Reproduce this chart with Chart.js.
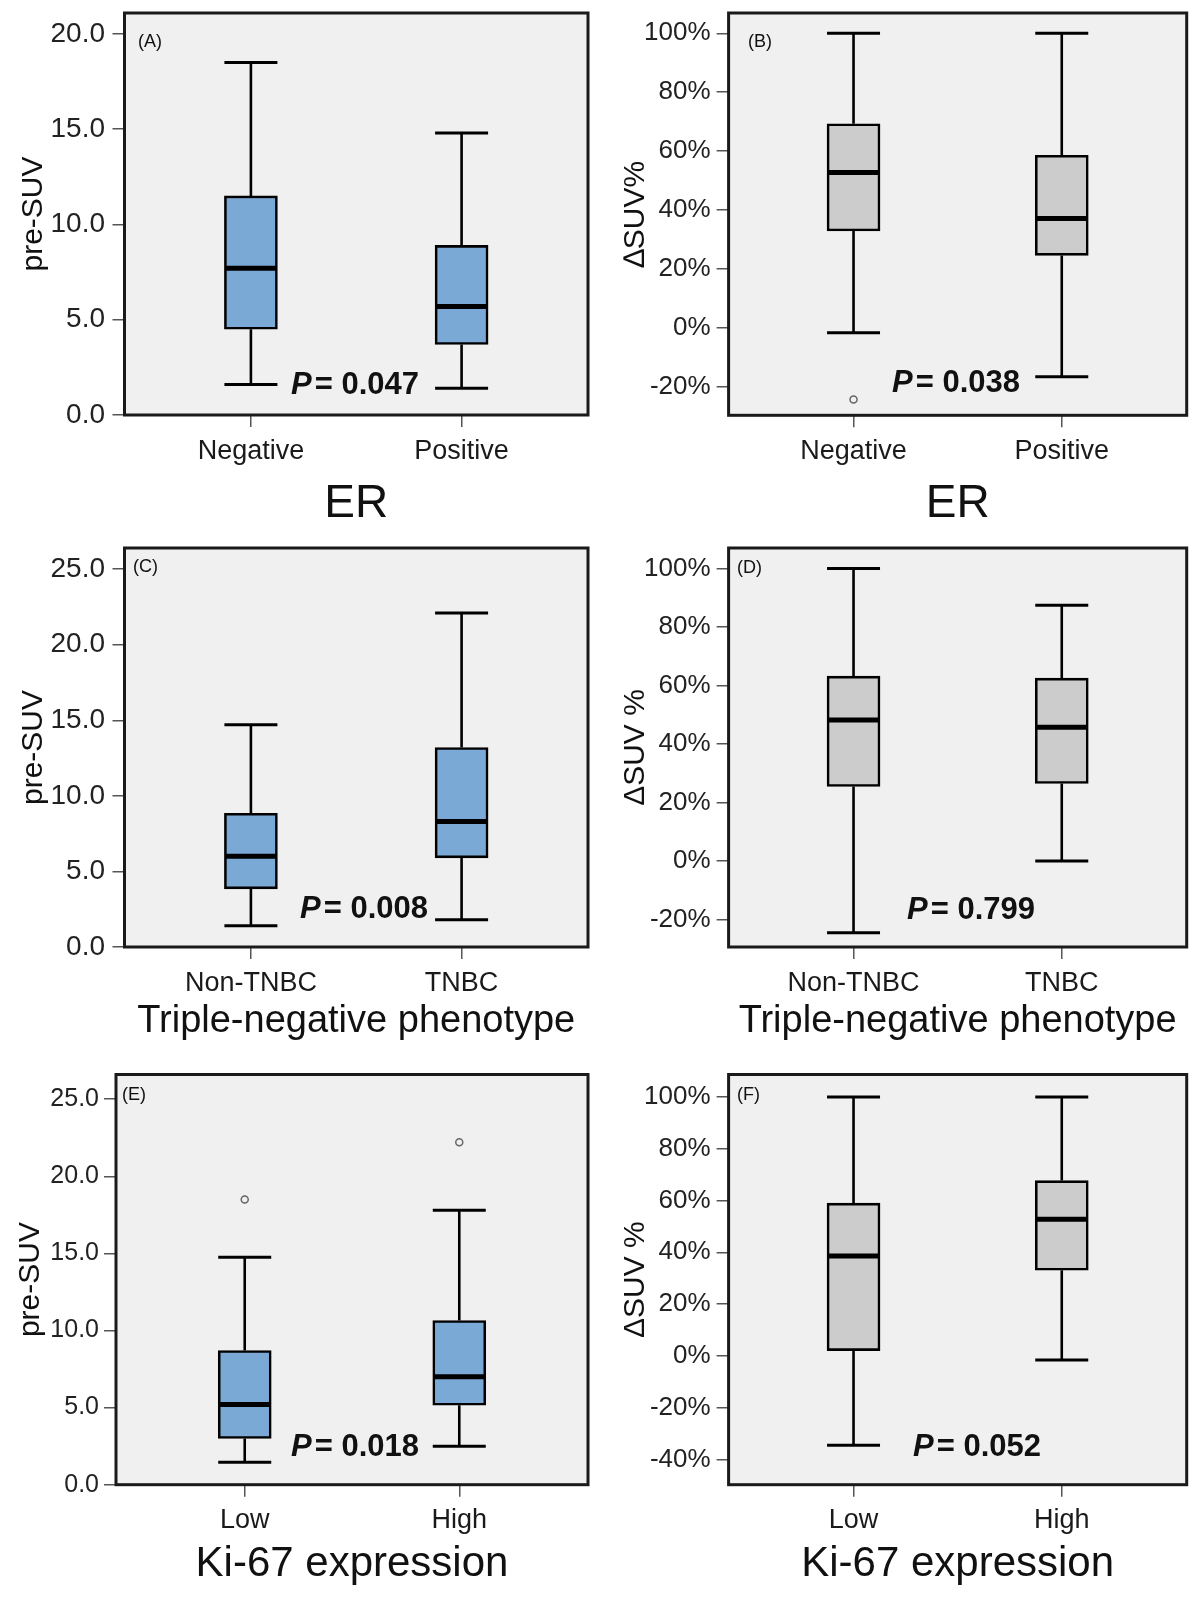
<!DOCTYPE html>
<html>
<head>
<meta charset="utf-8">
<script src="https://cdn.jsdelivr.net/npm/chart.js@4.4.1/dist/chart.umd.min.js"></script>
<style>
  html, body { margin: 0; padding: 0; background: #fff; }
  #wrap { position: relative; width: 1200px; height: 1600px; }
  canvas { position: absolute; }
</style>
</head>
<body>
<div id="wrap">
  <canvas id="pA" width="600" height="530" style="left:0;top:0"></canvas>
  <canvas id="pB" width="600" height="530" style="left:600px;top:0"></canvas>
  <canvas id="pC" width="600" height="530" style="left:0;top:530px"></canvas>
  <canvas id="pD" width="600" height="530" style="left:600px;top:530px"></canvas>
  <canvas id="pE" width="600" height="540" style="left:0;top:1060px"></canvas>
  <canvas id="pF" width="600" height="540" style="left:600px;top:1060px"></canvas>
</div>
<script>
// group names
const erGroups = ['Negative', 'Positive'];
const tnGroups = ['Non-TNBC', 'TNBC'];
const kiGroups = ['Low', 'High'];

// five-number summaries per group: [lower whisker, Q1, median, Q3, upper whisker]
const erPreSuv = [[1.6, 4.5, 7.7, 11.5, 18.5], [1.4, 3.7, 5.7, 8.9, 14.8]];
const erDeltaSuv = [[-1.7, 32.9, 52.7, 69.3, 100], [-16.6, 24.6, 37.1, 58.6, 100]];
const tnPreSuv = [[1.4, 3.85, 6.0, 8.85, 14.7], [1.8, 5.9, 8.3, 13.2, 22.1]];
const tnDeltaSuv = [[-24.5, 25.5, 48.2, 63.2, 100], [0, 26.5, 45.7, 62.5, 87.4]];
const kiPreSuv = [[1.45, 3.0, 5.2, 8.7, 14.75], [2.5, 5.15, 7.0, 10.65, 17.8]];
const kiDeltaSuv = [[-34.6, 2.0, 38.6, 59.0, 100], [-1.6, 33.1, 52.8, 67.7, 100]];

// outliers: [group index, value]
const erDeltaOutliers = [[0, -24.3]];
const kiPreOutliers = [[0, 18.5], [1, 22.2]];

// y tick values
const preTicks20 = [0, 5, 10, 15, 20];
const preTicks25 = [0, 5, 10, 15, 20, 25];
const deltaTicks = [-20, 0, 20, 40, 60, 80, 100];
const deltaTicksWide = [-40, -20, 0, 20, 40, 60, 80, 100];

const pValues = ['0.047', '0.038', '0.008', '0.799', '0.018', '0.052'];

const FONT = '"Liberation Sans", Arial, sans-serif';
const BLUE = '#7BA9D6';
const GREY = '#CCCCCC';
const BOX_W = 53;

function noPad(s) {
  s.paddingTop = 0; s.paddingBottom = 0; s.paddingLeft = 0; s.paddingRight = 0;
}

function makePanel(id, cfg) {
  const stats = cfg.stats;
  const area = cfg.area;

  const boxPlugin = {
    id: 'box_' + id,
    beforeDraw(chart) {
      const { ctx, chartArea: a } = chart;
      ctx.save();
      ctx.fillStyle = '#F0F0F0';
      ctx.fillRect(a.left, a.top, a.right - a.left, a.bottom - a.top);
      ctx.restore();
    },
    beforeDatasetsDraw(chart) {
      const { ctx, scales: { x, y } } = chart;
      ctx.save();
      ctx.strokeStyle = '#000';
      stats.forEach((s, i) => {
        const cx = x.getPixelForValue(i);
        ctx.lineWidth = 2.6;
        ctx.beginPath();
        ctx.moveTo(cx, y.getPixelForValue(s[0]));
        ctx.lineTo(cx, y.getPixelForValue(s[1]));
        ctx.moveTo(cx, y.getPixelForValue(s[3]));
        ctx.lineTo(cx, y.getPixelForValue(s[4]));
        ctx.stroke();
        ctx.lineWidth = 3;
        ctx.beginPath();
        [s[0], s[4]].forEach(v => {
          const py = y.getPixelForValue(v);
          ctx.moveTo(cx - BOX_W / 2, py);
          ctx.lineTo(cx + BOX_W / 2, py);
        });
        ctx.stroke();
      });
      ctx.restore();
    },
    afterDatasetsDraw(chart) {
      const { ctx, scales: { x, y } } = chart;
      ctx.save();
      ctx.strokeStyle = '#000';
      ctx.lineWidth = 5;
      stats.forEach((s, i) => {
        const cx = x.getPixelForValue(i);
        const py = y.getPixelForValue(s[2]);
        ctx.beginPath();
        ctx.moveTo(cx - BOX_W / 2 + 1, py);
        ctx.lineTo(cx + BOX_W / 2 - 1, py);
        ctx.stroke();
      });
      ctx.restore();
    },
    afterDraw(chart) {
      const { ctx, chartArea: a } = chart;
      ctx.save();
      // frame
      ctx.strokeStyle = '#1a1a1a';
      ctx.lineWidth = 3;
      ctx.strokeRect(a.left, a.top, a.right - a.left, a.bottom - a.top);
      // panel tag
      ctx.fillStyle = '#111';
      ctx.textBaseline = 'middle';
      ctx.font = '18px ' + FONT;
      ctx.fillText(cfg.tag, cfg.tagPos[0], cfg.tagPos[1]);
      // p value
      ctx.font = 'italic bold 31px ' + FONT;
      ctx.fillText('P', cfg.pPos[0], cfg.pPos[1]);
      const w = ctx.measureText('P').width;
      ctx.font = 'bold 31px ' + FONT;
      ctx.fillText('= ' + cfg.p, cfg.pPos[0] + w + 3, cfg.pPos[1]);
      ctx.restore();
    }
  };

  return new Chart(document.getElementById(id), {
    type: 'bar',
    data: {
      datasets: [{
        type: 'bar',
        data: stats.map((s, i) => ({ x: i, y: [s[1], s[3]] })),
        backgroundColor: cfg.fill,
        borderColor: '#000',
        borderWidth: 2.6,
        borderSkipped: false,
        barThickness: BOX_W,
        order: 2
      }, {
        type: 'scatter',
        data: (cfg.outliers || []).map(o => ({ x: o[0], y: o[1] })),
        pointRadius: 3.5,
        pointBorderColor: '#666',
        pointBackgroundColor: '#F0F0F0',
        pointBorderWidth: 1.5,
        order: 1
      }]
    },
    options: {
      responsive: false,
      animation: false,
      layout: { padding: { top: area.top, right: area.right, left: 0, bottom: 0 } },
      plugins: { legend: { display: false }, tooltip: { enabled: false } },
      scales: {
        x: {
          type: 'linear',
          min: -0.6,
          max: 1.6,
          offset: false,
          afterBuildTicks: s => { s.ticks = cfg.groups.map((g, i) => ({ value: i })); },
          afterFit: s => { s.height = area.xh; noPad(s); },
          ticks: {
            callback: v => cfg.groups[v],
            font: { family: FONT, size: 27 },
            color: '#1a1a1a',
            padding: 8,
            maxRotation: 0
          },
          grid: { drawOnChartArea: false, drawTicks: true, tickLength: 12, color: '#555', lineWidth: 1.5, offset: false },
          border: { display: false },
          title: {
            display: true,
            text: cfg.xTitle,
            color: '#111',
            font: { family: FONT, size: cfg.xTitleSize, lineHeight: 1 },
            padding: { top: 0, bottom: cfg.xTitlePad }
          }
        },
        y: {
          type: 'linear',
          min: cfg.yMin,
          max: cfg.yMax,
          afterBuildTicks: s => { s.ticks = cfg.yTicks.map(v => ({ value: v })); },
          afterFit: s => { s.width = area.left; noPad(s); },
          ticks: {
            callback: v => cfg.pct ? v + '%' : v.toFixed(1),
            font: { family: FONT, size: cfg.yTickSize || 27 },
            color: '#222',
            padding: cfg.yTickPad
          },
          grid: { drawOnChartArea: false, drawTicks: true, tickLength: 12, color: '#555', lineWidth: 1.5 },
          border: { display: false },
          title: {
            display: true,
            text: cfg.yTitle,
            color: '#111',
            font: { family: FONT, size: 30 },
            padding: { top: cfg.yTitlePad || 18, bottom: 0 }
          }
        }
      }
    },
    plugins: [boxPlugin]
  });
}

makePanel('pA', {
  groups: erGroups, stats: erPreSuv, fill: BLUE, yMin: 0, yMax: 21.1, yTicks: preTicks20, pct: false,
  yTickSize: 28, yTickPad: 7.5, yTitlePad: 16,
  yTitle: 'pre-SUV', xTitle: 'ER', xTitleSize: 46, xTitlePad: 3,
  area: { top: 13, right: 12, left: 124.5, xh: 115 },
  tag: '(A)', tagPos: [138, 42], p: pValues[0], pPos: [291, 385]
});
makePanel('pB', {
  groups: erGroups, stats: erDeltaSuv, outliers: erDeltaOutliers, fill: GREY, yMin: -29.7, yMax: 106.9, yTicks: deltaTicks, pct: true,
  yTickSize: 26, yTickPad: 6,
  yTitle: '\u2206SUV%', xTitle: 'ER', xTitleSize: 46, xTitlePad: 3,
  area: { top: 13, right: 13.3, left: 128.6, xh: 114.7 },
  tag: '(B)', tagPos: [148, 42], p: pValues[1], pPos: [292, 383]
});
makePanel('pC', {
  groups: tnGroups, stats: tnPreSuv, fill: BLUE, yMin: 0, yMax: 26.4, yTicks: preTicks25, pct: false,
  yTickSize: 28, yTickPad: 7.5, yTitlePad: 16,
  yTitle: 'pre-SUV', xTitle: 'Triple-negative phenotype', xTitleSize: 38, xTitlePad: 19,
  area: { top: 18, right: 12, left: 124.5, xh: 113 },
  tag: '(C)', tagPos: [133, 37], p: pValues[2], pPos: [300, 379]
});
makePanel('pD', {
  groups: tnGroups, stats: tnDeltaSuv, fill: GREY, yMin: -29.4, yMax: 107, yTicks: deltaTicks, pct: true,
  yTickSize: 26, yTickPad: 6,
  yTitle: '\u0394SUV %', xTitle: 'Triple-negative phenotype', xTitleSize: 38, xTitlePad: 19,
  area: { top: 18, right: 13.3, left: 128.6, xh: 113 },
  tag: '(D)', tagPos: [137, 38], p: pValues[3], pPos: [307, 380]
});
makePanel('pE', {
  groups: kiGroups, stats: kiPreSuv, outliers: kiPreOutliers, fill: BLUE, yMin: 0, yMax: 26.6, yTicks: preTicks25, pct: false,
  yTickSize: 25, yTickPad: 5,
  yTitle: 'pre-SUV', yTitlePad: 13, xTitle: 'Ki-67 expression', xTitleSize: 42, xTitlePad: 15,
  area: { top: 14.5, right: 12, left: 116, xh: 115.3 },
  tag: '(E)', tagPos: [122, 35], p: pValues[4], pPos: [291, 387]
});
makePanel('pF', {
  groups: kiGroups, stats: kiDeltaSuv, fill: GREY, yMin: -49.8, yMax: 108.7, yTicks: deltaTicksWide, pct: true,
  yTickSize: 26, yTickPad: 6,
  yTitle: '\u0394SUV %', xTitle: 'Ki-67 expression', xTitleSize: 42, xTitlePad: 15,
  area: { top: 14.5, right: 13.3, left: 128.6, xh: 115.3 },
  tag: '(F)', tagPos: [137, 35], p: pValues[5], pPos: [313, 387]
});
</script>
</body>
</html>
